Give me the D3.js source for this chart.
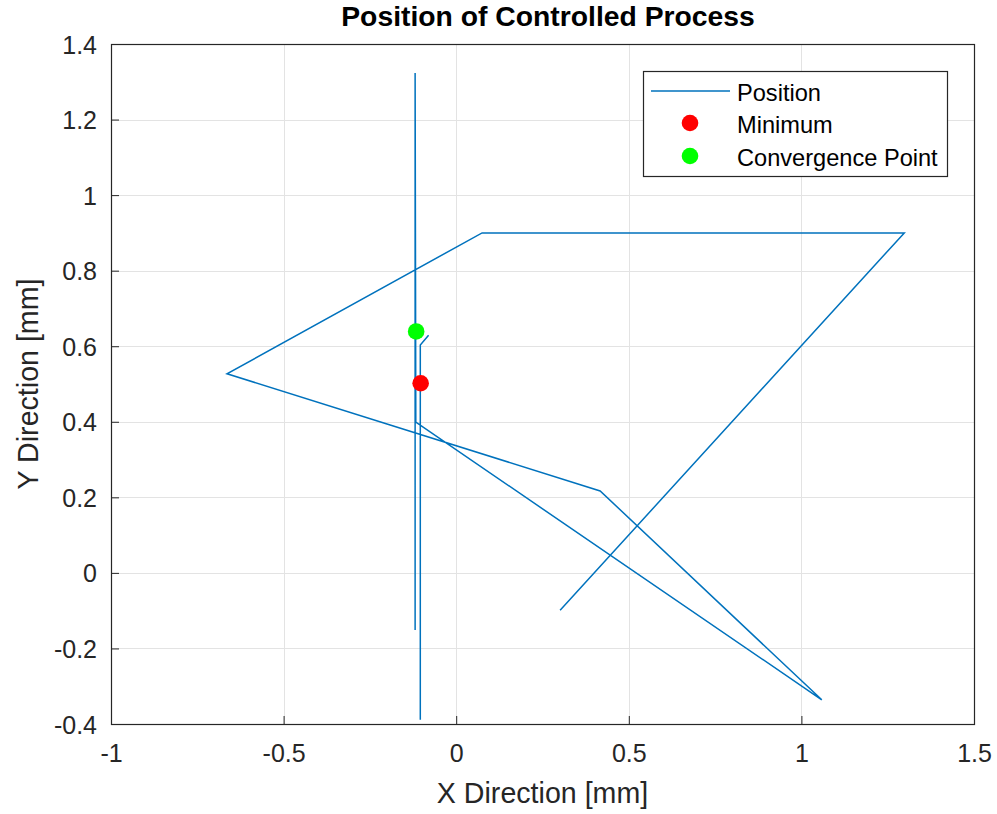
<!DOCTYPE html>
<html>
<head>
<meta charset="utf-8">
<script src="https://cdn.jsdelivr.net/npm/d3@7"></script>
<style>
  html, body { margin: 0; padding: 0; background: #ffffff; }
  svg { display: block; font-family: "Liberation Sans", Arial, Helvetica, sans-serif; }
</style>
</head>
<body>
<svg id="chart" width="997" height="814"></svg>
<script>
// Trajectory of the controlled process (mm). A null entry marks a break in the trace.
const positionX = [0.301, 1.298, 0.075, -0.664, 0.417, 1.059, -0.117, -0.119, -0.119, null, -0.104, -0.104, -0.080];
const positionY = [-0.099, 0.900, 0.900, 0.527, 0.217, -0.336, 0.399, 1.323, -0.151, null, -0.389, 0.603, 0.629];

const minimumPoint = { x: -0.103, y: 0.502 };
const convergencePoint = { x: -0.116, y: 0.639 };

const xTicks = [-1, -0.5, 0, 0.5, 1, 1.5];
const yTicks = [-0.4, -0.2, 0, 0.2, 0.4, 0.6, 0.8, 1, 1.2, 1.4];
const xDomain = [-1, 1.5];
const yDomain = [-0.4, 1.4];

const legendLabels = ["Position", "Minimum", "Convergence Point"];

const titleText = "Position of Controlled Process";
const xLabelText = "X Direction [mm]";
const yLabelText = "Y Direction [mm]";

const lineColor = "#0072BD";
const axisColor = "#262626";
const gridColor = "#e3e3e3";

const margin = { left: 111, right: 23, top: 44, bottom: 90 };
const W = 997, H = 814;
const plotW = W - margin.left - margin.right;
const plotH = H - margin.top - margin.bottom;

const svg = d3.select("#chart");
const x = d3.scaleLinear().domain(xDomain).range([0, plotW]);
const y = d3.scaleLinear().domain(yDomain).range([plotH, 0]);

const g = svg.append("g").attr("transform", `translate(${margin.left},${margin.top})`);

// grid
g.append("g").selectAll("line").data(xTicks).join("line")
  .attr("x1", d => Math.round(x(d)) + 0.5).attr("x2", d => Math.round(x(d)) + 0.5)
  .attr("y1", 0).attr("y2", plotH)
  .attr("stroke", gridColor).attr("stroke-width", 1);
g.append("g").selectAll("line").data(yTicks).join("line")
  .attr("y1", d => Math.round(y(d)) + 0.5).attr("y2", d => Math.round(y(d)) + 0.5)
  .attr("x1", 0).attr("x2", plotW)
  .attr("stroke", gridColor).attr("stroke-width", 1);

// axes with inward ticks
const fmt = d => String(d);
const xAxis = d3.axisBottom(x).tickValues(xTicks).tickFormat(fmt).tickSizeInner(-8).tickSizeOuter(0).tickPadding(20);
const yAxis = d3.axisLeft(y).tickValues(yTicks).tickFormat(fmt).tickSizeInner(-8).tickSizeOuter(0).tickPadding(14);

const gx = g.append("g").attr("transform", `translate(0,${plotH})`).call(xAxis);
const gy = g.append("g").call(yAxis);
[gx, gy].forEach(a => {
  a.select(".domain").remove();
  a.selectAll(".tick line").attr("stroke", axisColor);
  a.selectAll(".tick text").attr("fill", axisColor).style("font-size", "25px")
    .style("font-family", "'Liberation Sans', Arial, sans-serif");
});
gy.selectAll(".tick text").attr("dy", "0.36em");

// trajectory
const pts = positionX.map((px, i) => ({ x: px, y: positionY[i] }));
const line = d3.line()
  .defined(d => d.x !== null && d.y !== null)
  .x(d => x(d.x)).y(d => y(d.y));
g.append("path").datum(pts)
  .attr("d", line)
  .attr("fill", "none")
  .attr("stroke", lineColor)
  .attr("stroke-width", 1.5)
  .attr("stroke-linejoin", "miter");

// marker points
g.append("circle").attr("cx", x(minimumPoint.x)).attr("cy", y(minimumPoint.y))
  .attr("r", 8.3).attr("fill", "#ff0000");
g.append("circle").attr("cx", x(convergencePoint.x)).attr("cy", y(convergencePoint.y))
  .attr("r", 8.3).attr("fill", "#00ff00");

// axes box
g.append("rect").attr("x", 0.5).attr("y", 0.5).attr("width", plotW).attr("height", plotH)
  .attr("fill", "none").attr("stroke", axisColor).attr("stroke-width", 1.2);

// title and axis labels
svg.append("text").attr("x", 548).attr("y", 26).attr("text-anchor", "middle")
  .style("font-size", "28.3px").style("font-weight", "bold").attr("fill", "#000")
  .text(titleText);
svg.append("text").attr("x", margin.left + plotW / 2).attr("y", 803).attr("text-anchor", "middle")
  .style("font-size", "28.6px").attr("fill", axisColor).text(xLabelText);
svg.append("text")
  .attr("transform", `translate(38,${margin.top + plotH / 2}) rotate(-90)`)
  .attr("text-anchor", "middle")
  .style("font-size", "28.6px").attr("fill", axisColor).text(yLabelText);

// legend
const lg = svg.append("g").attr("transform", "translate(643,71)");
lg.append("rect").attr("x", 0.5).attr("y", 0.5).attr("width", 304).attr("height", 105)
  .attr("fill", "#fff").attr("stroke", axisColor).attr("stroke-width", 1.2);
const rowsY = [20, 52, 85];
lg.append("line").attr("x1", 8).attr("x2", 87).attr("y1", rowsY[0]).attr("y2", rowsY[0])
  .attr("stroke", lineColor).attr("stroke-width", 1.4);
lg.append("circle").attr("cx", 47).attr("cy", rowsY[1]).attr("r", 8.3).attr("fill", "#ff0000");
lg.append("circle").attr("cx", 47).attr("cy", rowsY[2]).attr("r", 8.3).attr("fill", "#00ff00");
lg.selectAll("text.lbl").data(legendLabels).join("text").attr("class", "lbl")
  .attr("x", 94).attr("y", (d, i) => rowsY[i] + 9.5)
  .style("font-size", "23.6px").attr("fill", "#000").text(d => d);
</script>
</body>
</html>
